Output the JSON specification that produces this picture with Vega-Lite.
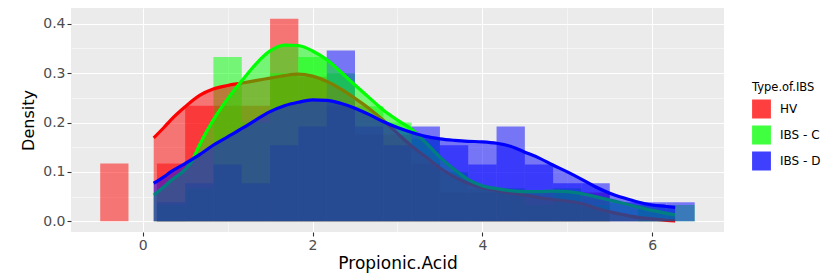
{
  "$schema": "https://vega.github.io/schema/vega-lite/v6.json",
  "width": 653,
  "height": 224,
  "autosize": {"type": "none"},
  "padding": {"left": 71, "top": 8, "right": 105, "bottom": 45},
  "background": "white",
  "config": {
    "view": {"fill": "#EBEBEB", "stroke": null},
    "font": "DejaVu Sans",
    "axis": {
      "domain": false,
      "gridColor": "#FFFFFF",
      "tickColor": "#333333",
      "tickSize": 4,
      "tickWidth": 1.1,
      "labelColor": "#4D4D4D",
      "labelFont": "DejaVu Sans",
      "labelFontSize": 14,
      "labelPadding": 2,
      "titleFont": "DejaVu Sans",
      "titleFontWeight": "normal",
      "titleColor": "#000000",
      "titleFontSize": 17
    },
    "legend": {
      "titleFont": "DejaVu Sans",
      "titleFontWeight": "normal",
      "titleFontSize": 11.5,
      "titleColor": "#000000",
      "labelFont": "DejaVu Sans",
      "labelFontSize": 12,
      "labelColor": "#000000"
    }
  },
  "datasets": {
    "bars": [
      {"group": "HV", "x0": -0.5, "x1": -0.167, "density": 0.117},
      {"group": "HV", "x0": 0.167, "x1": 0.5, "density": 0.117},
      {"group": "HV", "x0": 0.5, "x1": 0.833, "density": 0.234},
      {"group": "HV", "x0": 0.833, "x1": 1.167, "density": 0.234},
      {"group": "HV", "x0": 1.167, "x1": 1.5, "density": 0.234},
      {"group": "HV", "x0": 1.5, "x1": 1.833, "density": 0.41},
      {"group": "HV", "x0": 1.833, "x1": 2.167, "density": 0.293},
      {"group": "HV", "x0": 2.167, "x1": 2.5, "density": 0.234},
      {"group": "HV", "x0": 2.5, "x1": 2.833, "density": 0.176},
      {"group": "HV", "x0": 2.833, "x1": 3.167, "density": 0.176},
      {"group": "HV", "x0": 3.167, "x1": 3.5, "density": 0.117},
      {"group": "HV", "x0": 3.5, "x1": 3.833, "density": 0.0585},
      {"group": "HV", "x0": 3.833, "x1": 4.167, "density": 0.0585},
      {"group": "HV", "x0": 4.167, "x1": 4.5, "density": 0.0585},
      {"group": "HV", "x0": 4.5, "x1": 4.833, "density": 0.0585},
      {"group": "HV", "x0": 4.833, "x1": 5.167, "density": 0.0585},
      {"group": "HV", "x0": 5.167, "x1": 5.5, "density": 0.0585},
      {"group": "IBS - C", "x0": 0.167, "x1": 0.5, "density": 0.033},
      {"group": "IBS - C", "x0": 0.5, "x1": 0.833, "density": 0.067},
      {"group": "IBS - C", "x0": 0.833, "x1": 1.167, "density": 0.333},
      {"group": "IBS - C", "x0": 1.167, "x1": 1.5, "density": 0.2},
      {"group": "IBS - C", "x0": 1.5, "x1": 1.833, "density": 0.3},
      {"group": "IBS - C", "x0": 1.833, "x1": 2.167, "density": 0.333},
      {"group": "IBS - C", "x0": 2.167, "x1": 2.5, "density": 0.3},
      {"group": "IBS - C", "x0": 2.5, "x1": 2.833, "density": 0.233},
      {"group": "IBS - C", "x0": 2.833, "x1": 3.167, "density": 0.2},
      {"group": "IBS - C", "x0": 3.167, "x1": 3.5, "density": 0.167},
      {"group": "IBS - C", "x0": 3.5, "x1": 3.833, "density": 0.1},
      {"group": "IBS - C", "x0": 3.833, "x1": 4.167, "density": 0.067},
      {"group": "IBS - C", "x0": 4.167, "x1": 4.5, "density": 0.067},
      {"group": "IBS - C", "x0": 4.5, "x1": 4.833, "density": 0.033},
      {"group": "IBS - C", "x0": 4.833, "x1": 5.167, "density": 0.067},
      {"group": "IBS - C", "x0": 5.167, "x1": 5.5, "density": 0.033},
      {"group": "IBS - C", "x0": 5.833, "x1": 6.167, "density": 0.033},
      {"group": "IBS - C", "x0": 6.167, "x1": 6.5, "density": 0.033},
      {"group": "IBS - D", "x0": 0.167, "x1": 0.5, "density": 0.0385},
      {"group": "IBS - D", "x0": 0.5, "x1": 0.833, "density": 0.077},
      {"group": "IBS - D", "x0": 0.833, "x1": 1.167, "density": 0.115},
      {"group": "IBS - D", "x0": 1.167, "x1": 1.5, "density": 0.077},
      {"group": "IBS - D", "x0": 1.5, "x1": 1.833, "density": 0.154},
      {"group": "IBS - D", "x0": 1.833, "x1": 2.167, "density": 0.192},
      {"group": "IBS - D", "x0": 2.167, "x1": 2.5, "density": 0.346},
      {"group": "IBS - D", "x0": 2.5, "x1": 2.833, "density": 0.192},
      {"group": "IBS - D", "x0": 2.833, "x1": 3.167, "density": 0.154},
      {"group": "IBS - D", "x0": 3.167, "x1": 3.5, "density": 0.192},
      {"group": "IBS - D", "x0": 3.5, "x1": 3.833, "density": 0.154},
      {"group": "IBS - D", "x0": 3.833, "x1": 4.167, "density": 0.115},
      {"group": "IBS - D", "x0": 4.167, "x1": 4.5, "density": 0.192},
      {"group": "IBS - D", "x0": 4.5, "x1": 4.833, "density": 0.115},
      {"group": "IBS - D", "x0": 4.833, "x1": 5.167, "density": 0.077},
      {"group": "IBS - D", "x0": 5.167, "x1": 5.5, "density": 0.077},
      {"group": "IBS - D", "x0": 5.5, "x1": 5.833, "density": 0.0385},
      {"group": "IBS - D", "x0": 5.833, "x1": 6.167, "density": 0.0385},
      {"group": "IBS - D", "x0": 6.167, "x1": 6.5, "density": 0.0385}
    ],
    "dens": [
      {"group": "HV", "x": 0.13, "density": 0.169},
      {"group": "HV", "x": 0.25, "density": 0.19},
      {"group": "HV", "x": 0.33, "density": 0.205},
      {"group": "HV", "x": 0.5, "density": 0.232},
      {"group": "HV", "x": 0.67, "density": 0.255},
      {"group": "HV", "x": 0.83, "density": 0.268},
      {"group": "HV", "x": 1.0, "density": 0.275},
      {"group": "HV", "x": 1.17, "density": 0.28},
      {"group": "HV", "x": 1.33, "density": 0.285},
      {"group": "HV", "x": 1.5, "density": 0.29},
      {"group": "HV", "x": 1.67, "density": 0.295},
      {"group": "HV", "x": 1.83, "density": 0.298},
      {"group": "HV", "x": 2.0, "density": 0.294},
      {"group": "HV", "x": 2.17, "density": 0.283},
      {"group": "HV", "x": 2.33, "density": 0.268},
      {"group": "HV", "x": 2.5, "density": 0.249},
      {"group": "HV", "x": 2.67, "density": 0.228},
      {"group": "HV", "x": 2.83, "density": 0.205},
      {"group": "HV", "x": 3.0, "density": 0.178},
      {"group": "HV", "x": 3.17, "density": 0.152},
      {"group": "HV", "x": 3.33, "density": 0.131},
      {"group": "HV", "x": 3.5, "density": 0.108},
      {"group": "HV", "x": 3.67, "density": 0.09},
      {"group": "HV", "x": 3.83, "density": 0.077},
      {"group": "HV", "x": 4.0, "density": 0.068},
      {"group": "HV", "x": 4.17, "density": 0.062},
      {"group": "HV", "x": 4.33, "density": 0.057},
      {"group": "HV", "x": 4.5, "density": 0.053},
      {"group": "HV", "x": 4.67, "density": 0.048},
      {"group": "HV", "x": 4.83, "density": 0.044},
      {"group": "HV", "x": 5.0, "density": 0.041},
      {"group": "HV", "x": 5.17, "density": 0.036},
      {"group": "HV", "x": 5.33, "density": 0.027},
      {"group": "HV", "x": 5.5, "density": 0.019},
      {"group": "HV", "x": 5.67, "density": 0.013},
      {"group": "HV", "x": 5.83, "density": 0.008},
      {"group": "HV", "x": 6.0, "density": 0.005},
      {"group": "HV", "x": 6.17, "density": 0.002},
      {"group": "HV", "x": 6.27, "density": 0.001},
      {"group": "IBS - C", "x": 0.13, "density": 0.053},
      {"group": "IBS - C", "x": 0.25, "density": 0.07},
      {"group": "IBS - C", "x": 0.33, "density": 0.082},
      {"group": "IBS - C", "x": 0.5, "density": 0.105},
      {"group": "IBS - C", "x": 0.58, "density": 0.122},
      {"group": "IBS - C", "x": 0.67, "density": 0.155},
      {"group": "IBS - C", "x": 0.83, "density": 0.205},
      {"group": "IBS - C", "x": 1.0, "density": 0.248},
      {"group": "IBS - C", "x": 1.17, "density": 0.285},
      {"group": "IBS - C", "x": 1.33, "density": 0.318},
      {"group": "IBS - C", "x": 1.5, "density": 0.345},
      {"group": "IBS - C", "x": 1.67, "density": 0.357},
      {"group": "IBS - C", "x": 1.83, "density": 0.356},
      {"group": "IBS - C", "x": 2.0, "density": 0.345},
      {"group": "IBS - C", "x": 2.17, "density": 0.327},
      {"group": "IBS - C", "x": 2.33, "density": 0.303},
      {"group": "IBS - C", "x": 2.5, "density": 0.276},
      {"group": "IBS - C", "x": 2.67, "density": 0.25},
      {"group": "IBS - C", "x": 2.83, "density": 0.226},
      {"group": "IBS - C", "x": 3.0, "density": 0.205},
      {"group": "IBS - C", "x": 3.17, "density": 0.186},
      {"group": "IBS - C", "x": 3.33, "density": 0.16},
      {"group": "IBS - C", "x": 3.5, "density": 0.13},
      {"group": "IBS - C", "x": 3.67, "density": 0.105},
      {"group": "IBS - C", "x": 3.83, "density": 0.085},
      {"group": "IBS - C", "x": 4.0, "density": 0.072},
      {"group": "IBS - C", "x": 4.17, "density": 0.066},
      {"group": "IBS - C", "x": 4.33, "density": 0.062},
      {"group": "IBS - C", "x": 4.5, "density": 0.06},
      {"group": "IBS - C", "x": 4.67, "density": 0.06},
      {"group": "IBS - C", "x": 4.83, "density": 0.061},
      {"group": "IBS - C", "x": 5.0, "density": 0.06},
      {"group": "IBS - C", "x": 5.17, "density": 0.056},
      {"group": "IBS - C", "x": 5.33, "density": 0.05},
      {"group": "IBS - C", "x": 5.5, "density": 0.043},
      {"group": "IBS - C", "x": 5.67, "density": 0.036},
      {"group": "IBS - C", "x": 5.83, "density": 0.029},
      {"group": "IBS - C", "x": 6.0, "density": 0.022},
      {"group": "IBS - C", "x": 6.17, "density": 0.016},
      {"group": "IBS - C", "x": 6.27, "density": 0.013},
      {"group": "IBS - D", "x": 0.13, "density": 0.077},
      {"group": "IBS - D", "x": 0.25, "density": 0.09},
      {"group": "IBS - D", "x": 0.33, "density": 0.1},
      {"group": "IBS - D", "x": 0.5, "density": 0.117},
      {"group": "IBS - D", "x": 0.67, "density": 0.135},
      {"group": "IBS - D", "x": 0.83, "density": 0.154},
      {"group": "IBS - D", "x": 1.0, "density": 0.171},
      {"group": "IBS - D", "x": 1.17, "density": 0.188},
      {"group": "IBS - D", "x": 1.33, "density": 0.205},
      {"group": "IBS - D", "x": 1.5, "density": 0.222},
      {"group": "IBS - D", "x": 1.67, "density": 0.234},
      {"group": "IBS - D", "x": 1.83, "density": 0.241},
      {"group": "IBS - D", "x": 2.0, "density": 0.246},
      {"group": "IBS - D", "x": 2.17, "density": 0.245},
      {"group": "IBS - D", "x": 2.33, "density": 0.239},
      {"group": "IBS - D", "x": 2.5, "density": 0.229},
      {"group": "IBS - D", "x": 2.67, "density": 0.216},
      {"group": "IBS - D", "x": 2.83, "density": 0.202},
      {"group": "IBS - D", "x": 3.0, "density": 0.19},
      {"group": "IBS - D", "x": 3.17, "density": 0.18},
      {"group": "IBS - D", "x": 3.33, "density": 0.172},
      {"group": "IBS - D", "x": 3.5, "density": 0.167},
      {"group": "IBS - D", "x": 3.67, "density": 0.164},
      {"group": "IBS - D", "x": 3.83, "density": 0.162},
      {"group": "IBS - D", "x": 4.0, "density": 0.161},
      {"group": "IBS - D", "x": 4.17, "density": 0.158},
      {"group": "IBS - D", "x": 4.33, "density": 0.152},
      {"group": "IBS - D", "x": 4.5, "density": 0.14},
      {"group": "IBS - D", "x": 4.67, "density": 0.128},
      {"group": "IBS - D", "x": 4.83, "density": 0.114},
      {"group": "IBS - D", "x": 5.0, "density": 0.1},
      {"group": "IBS - D", "x": 5.17, "density": 0.085},
      {"group": "IBS - D", "x": 5.33, "density": 0.07},
      {"group": "IBS - D", "x": 5.5, "density": 0.057},
      {"group": "IBS - D", "x": 5.67, "density": 0.047},
      {"group": "IBS - D", "x": 5.83, "density": 0.039},
      {"group": "IBS - D", "x": 6.0, "density": 0.033},
      {"group": "IBS - D", "x": 6.17, "density": 0.03},
      {"group": "IBS - D", "x": 6.27, "density": 0.028}
    ]
  },
  "encoding": {
    "x": {
      "type": "quantitative",
      "title": "Propionic.Acid",
      "scale": {"domain": [-0.844, 6.845], "nice": false, "zero": false},
      "axis": {
        "values": [0, 1, 2, 3, 4, 5, 6],
        "labelExpr": "datum.value % 2 === 0 ? datum.label : ''",
        "gridWidth": {"condition": {"test": "datum.value % 2 === 0", "value": 1.1}, "value": 0.5},
        "tickOpacity": {"condition": {"test": "datum.value % 2 === 0", "value": 1}, "value": 0},
        "titlePadding": 3
      }
    },
    "y": {
      "type": "quantitative",
      "title": "Density",
      "scale": {"domain": [-0.0217, 0.432], "nice": false, "zero": false},
      "axis": {
        "values": [0, 0.05, 0.1, 0.15, 0.2, 0.25, 0.3, 0.35, 0.4],
        "labelExpr": "round(datum.value * 100) % 10 === 0 ? format(datum.value, '.1f') : ''",
        "gridWidth": {"condition": {"test": "round(datum.value * 100) % 10 === 0", "value": 1.1}, "value": 0.5},
        "tickOpacity": {"condition": {"test": "round(datum.value * 100) % 10 === 0", "value": 1}, "value": 0},
        "titleFontSize": 16,
        "titlePadding": 6
      }
    },
    "color": {
      "field": "group",
      "type": "nominal",
      "title": "Type.of.IBS",
      "scale": {"domain": ["HV", "IBS - C", "IBS - D"], "range": ["#FF0000", "#00FF00", "#0000FF"]},
      "legend": {
        "orient": "none",
        "legendX": 681,
        "legendY": 74,
        "symbolType": "square",
        "symbolSize": 300,
        "symbolOpacity": 0.75,
        "symbolStrokeWidth": 1.5,
        "rowPadding": 1,
        "labelOffset": 9,
        "titlePadding": 6,
        "encode": {"symbols": {"update": {"stroke": {"scale": "color", "field": "value"}}}}
      }
    }
  },
  "layer": [
    {
      "data": {"name": "bars"},
      "mark": {"type": "rect", "opacity": 0.5},
      "encoding": {
        "x": {"field": "x0"},
        "x2": {"field": "x1"},
        "y": {"field": "density"},
        "y2": {"datum": 0}
      }
    },
    {
      "data": {"name": "dens"},
      "transform": [{"filter": "datum.group === 'HV'"}],
      "mark": {"type": "area", "opacity": 0.5, "interpolate": "monotone"},
      "encoding": {"x": {"field": "x"}, "y": {"field": "density"}, "y2": {"datum": 0}}
    },
    {
      "data": {"name": "dens"},
      "transform": [{"filter": "datum.group === 'HV'"}],
      "mark": {"type": "line", "strokeWidth": 3.2, "interpolate": "monotone"},
      "encoding": {"x": {"field": "x"}, "y": {"field": "density"}}
    },
    {
      "data": {"name": "dens"},
      "transform": [{"filter": "datum.group === 'IBS - C'"}],
      "mark": {"type": "area", "opacity": 0.5, "interpolate": "monotone"},
      "encoding": {"x": {"field": "x"}, "y": {"field": "density"}, "y2": {"datum": 0}}
    },
    {
      "data": {"name": "dens"},
      "transform": [{"filter": "datum.group === 'IBS - C'"}],
      "mark": {"type": "line", "strokeWidth": 3.2, "interpolate": "monotone"},
      "encoding": {"x": {"field": "x"}, "y": {"field": "density"}}
    },
    {
      "data": {"name": "dens"},
      "transform": [{"filter": "datum.group === 'IBS - D'"}],
      "mark": {"type": "area", "opacity": 0.5, "interpolate": "monotone"},
      "encoding": {"x": {"field": "x"}, "y": {"field": "density"}, "y2": {"datum": 0}}
    },
    {
      "data": {"name": "dens"},
      "transform": [{"filter": "datum.group === 'IBS - D'"}],
      "mark": {"type": "line", "strokeWidth": 3.2, "interpolate": "monotone"},
      "encoding": {"x": {"field": "x"}, "y": {"field": "density"}}
    }
  ]
}
